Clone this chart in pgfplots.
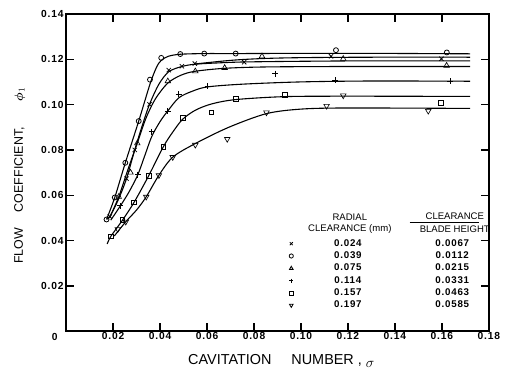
\documentclass[border=0pt]{standalone}
\usepackage{fontspec}
\setmainfont{Liberation Sans}
\newfontfamily\spc{Liberation Sans}[LetterSpace=8]
\usepackage{pgfplots}
\pgfplotsset{compat=1.18}
\newcommand{\legrow}[2]{\makebox[96pt][c]{#1}\makebox[114pt][c]{#2}}
\begin{document}
\begin{tikzpicture}
\begin{axis}[
 width=425pt,height=319pt,scale only axis,
 xmin=0,xmax=0.18,ymin=0,ymax=0.14,
 clip=false,
 axis line style={line width=1.8pt},
 tick align=inside, major tick length=8pt,
 tick style={black,line width=1.3pt},
 xtick={0.02,0.04,0.06,0.08,0.10,0.12,0.14,0.16,0.18},
 ytick={0.02,0.04,0.06,0.08,0.10,0.12,0.14},
 scaled ticks=false,
 /pgf/number format/.cd, fixed, fixed zerofill, precision=2, assume math mode=true, /pgfplots/.cd,
 ticklabel style={font=\spc\bfseries\fontsize{10.3}{12}\selectfont},
 xticklabel style={yshift=2pt},
 yticklabel style={xshift=1pt},
 xlabel={CAVITATION\hspace{20pt}NUMBER\hspace{4pt}, \raisebox{-3pt}{$\sigma$}},
 ylabel={FLOW\hspace{16pt}COEFFICIENT,\hspace{26pt}{\boldmath$\phi$}$_1$},
 xlabel style={at={(axis description cs:0.509,-0.093)},anchor=center,font=\fontsize{14.5}{17}\selectfont},
 ylabel style={at={(axis description cs:-0.11,0.49)},anchor=center,font=\fontsize{12.5}{14}\selectfont},
 legend style={at={(axis cs:0.0921,0.0406)},anchor=north west,draw=none,fill=none,inner sep=0pt,outer sep=0pt,
   font=\spc\bfseries\fontsize{9.8}{11}\selectfont,row sep=3.4pt,
   nodes={inner sep=0pt,text height=7pt,text depth=2pt}},
 legend cell align=left,
 legend image code/.code={\path (0pt,0pt) (17pt,0pt); \draw[#1,mark size=2.1pt,line width=0.8pt] plot coordinates {(8.5pt,0pt)};},
]
% fitted curves
\addplot[black,line width=1.1pt,smooth,forget plot] coordinates {(0.0172,0.0493)(0.0207,0.059)(0.0252,0.0743)(0.0309,0.0927)(0.0357,0.1090)(0.0385,0.1165)(0.0405,0.1195)(0.0435,0.1213)(0.0486,0.1222)(0.0588,0.1225)(0.0722,0.1225)(0.10,0.1226)(0.13,0.1226)(0.172,0.1224)};
\addplot[black,line width=1.1pt,smooth,forget plot] coordinates {(0.0175,0.0495)(0.0186,0.0506)(0.0222,0.058)(0.0257,0.0673)(0.0292,0.080)(0.0325,0.091)(0.0355,0.1001)(0.0395,0.109)(0.0437,0.1145)(0.0493,0.1168)(0.0548,0.1178)(0.065,0.1184)(0.0758,0.1188)(0.10,0.1191)(0.13,0.1193)(0.172,0.1193)};
\addplot[black,line width=1.1pt,smooth,forget plot] coordinates {(0.0548,0.1179)(0.0700,0.1195)(0.0834,0.1203)(0.10,0.1207)(0.13,0.1209)(0.172,0.1209)};
\addplot[black,line width=1.1pt,smooth,forget plot] coordinates {(0.0185,0.050)(0.0224,0.0593)(0.0262,0.071)(0.0303,0.083)(0.0340,0.094)(0.0380,0.1025)(0.0433,0.1095)(0.0490,0.1130)(0.055,0.1147)(0.0675,0.1160)(0.085,0.1166)(0.12,0.1168)(0.172,0.1168)};
\addplot[black,line width=1.1pt,smooth,forget plot] coordinates {(0.0190,0.0490)(0.0231,0.0553)(0.0268,0.0615)(0.0305,0.0690)(0.0335,0.0775)(0.0365,0.0860)(0.0400,0.0925)(0.0433,0.0972)(0.0480,0.1030)(0.0540,0.1060)(0.0602,0.1078)(0.075,0.1090)(0.10,0.1100)(0.13,0.1104)(0.172,0.1103)};
\addplot[black,line width=1.1pt,smooth,forget plot] coordinates {(0.0175,0.0385)(0.0190,0.0418)(0.0240,0.0490)(0.0290,0.0570)(0.0351,0.0685)(0.0414,0.0814)(0.0455,0.0880)(0.0496,0.0935)(0.0550,0.0975)(0.0620,0.1003)(0.0722,0.1022)(0.0930,0.1035)(0.12,0.1037)(0.172,0.1036)};
\addplot[black,line width=1.1pt,smooth,forget plot] coordinates {(0.0205,0.0420)(0.0254,0.0483)(0.0300,0.0535)(0.0341,0.0593)(0.0395,0.0688)(0.0454,0.0768)(0.0550,0.0828)(0.0693,0.0900)(0.0853,0.0960)(0.1000,0.0980)(0.1200,0.0985)(0.172,0.0983)};
% measured points
\addplot[only marks,black,mark=x,mark size=3pt,line width=0.8pt] coordinates {(0.0186,0.0506)(0.0257,0.0673)(0.0292,0.080)(0.0355,0.1001)(0.0437,0.1152)(0.0493,0.1169)(0.0548,0.1181)(0.0758,0.1187)(0.1128,0.1213)(0.1598,0.1202)};
\addlegendentry{\legrow{0.024}{0.0067}}
\addplot[only marks,black,mark=o,mark size=2.5pt,line width=0.8pt,mark options={fill=white}] coordinates {(0.0172,0.0493)(0.0207,0.059)(0.0252,0.0743)(0.0309,0.0927)(0.0357,0.111)(0.0405,0.1206)(0.0486,0.1223)(0.0588,0.1225)(0.0722,0.1225)(0.1149,0.1240)(0.1621,0.1230)};
\addlegendentry{\legrow{0.039}{0.0112}}
\addplot[only marks,black,mark=triangle,mark size=3.2pt,line width=0.65pt,mark options={fill=white}] coordinates {(0.0224,0.0593)(0.0274,0.070)(0.0303,0.0829)(0.0433,0.1103)(0.0550,0.1147)(0.0675,0.1162)(0.0834,0.1213)(0.118,0.1202)(0.162,0.1172)};
\addlegendentry{\legrow{0.075}{0.0215}}
\addplot[only marks,black,mark=+,mark size=3pt,line width=0.8pt] coordinates {(0.0231,0.0553)(0.0305,0.069)(0.0365,0.088)(0.0433,0.0972)(0.0479,0.1045)(0.0602,0.1082)(0.0890,0.1137)(0.1145,0.1107)(0.1635,0.1102)};
\addlegendentry{\legrow{0.114}{0.0331}}
\addplot[only marks,black,mark=square,mark size=2.4pt,line width=0.8pt,mark options={fill=white}] coordinates {(0.0190,0.0418)(0.0240,0.0490)(0.0290,0.0568)(0.0351,0.0685)(0.0414,0.0814)(0.0496,0.0940)(0.0619,0.0965)(0.0722,0.1026)(0.0930,0.1041)(0.1595,0.1009)};
\addlegendentry{\legrow{0.157}{0.0463}}
\addplot[only marks,black,mark=triangle,mark options={rotate=180,fill=white},mark size=3.2pt,line width=0.65pt] coordinates {(0.0220,0.0450)(0.0254,0.0483)(0.0341,0.0593)(0.0395,0.0688)(0.0454,0.0768)(0.0550,0.0822)(0.0686,0.0848)(0.0853,0.0965)(0.1109,0.0994)(0.1180,0.1040)(0.1542,0.0972)};
\addlegendentry{\legrow{0.197}{0.0585}}
% legend headers
\node[font=\fontsize{9.6}{11}\selectfont] at (axis cs:0.1208,0.0503) {RADIAL};
\node[font=\fontsize{9.6}{11}\selectfont] at (axis cs:0.1208,0.0452) {CLEARANCE (mm)};
\node[font=\fontsize{9.6}{11}\selectfont] at (axis cs:0.1655,0.0507) {CLEARANCE};
\draw[line width=0.9pt] (axis cs:0.1463,0.04814) -- (axis cs:0.1756,0.04814);
\node[font=\fontsize{9.6}{11}\selectfont] at (axis cs:0.1655,0.0452) {BLADE HEIGHT};
\node[font=\spc\bfseries\fontsize{10.3}{12}\selectfont] at (axis cs:0,0) [xshift=-11.5pt,yshift=-6pt] {0};
\end{axis}
\path[use as bounding box] (-66.5pt,-41pt) rectangle (442.5pt,333pt);
\end{tikzpicture}
\end{document}
